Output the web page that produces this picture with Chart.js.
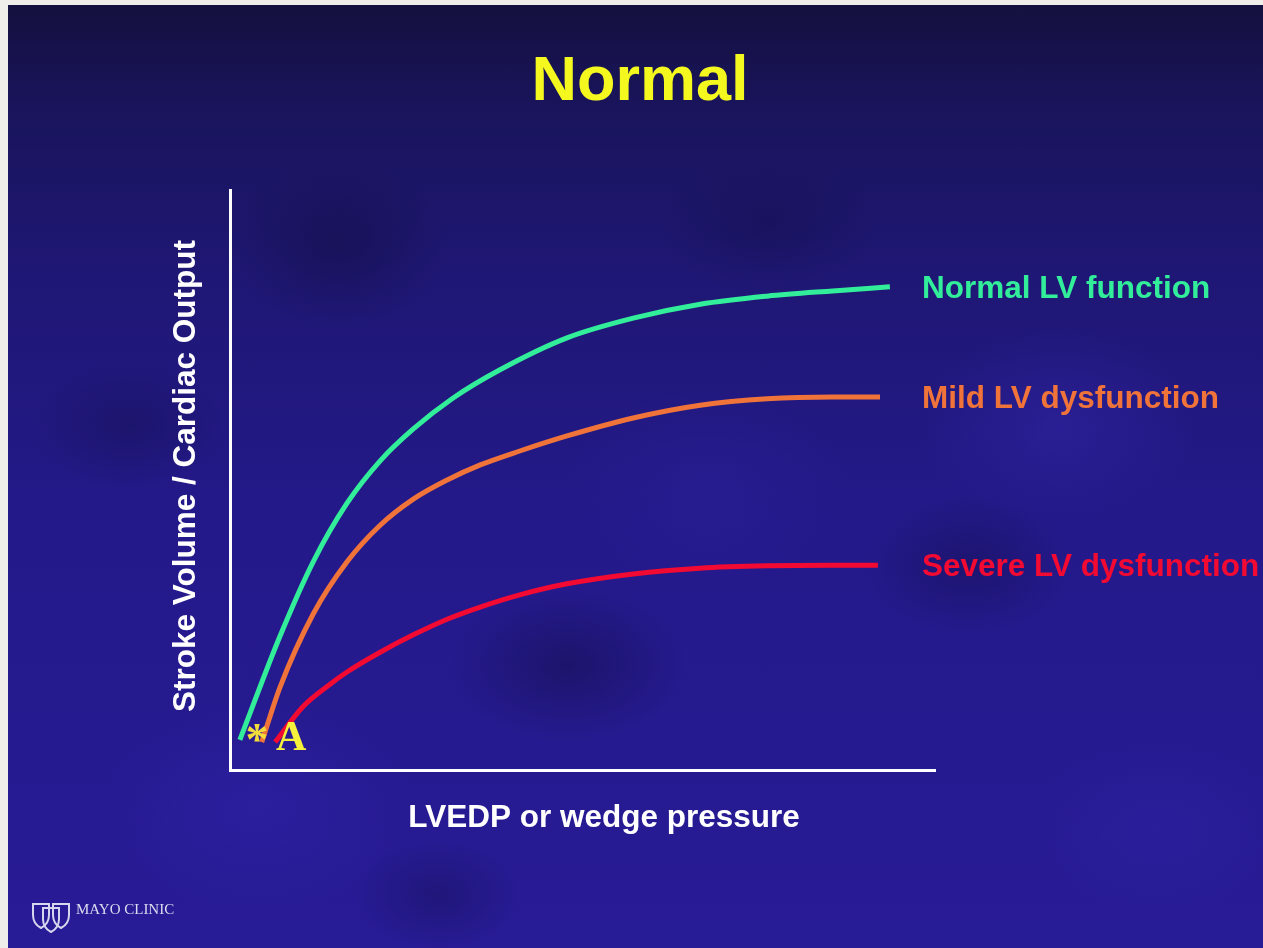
<!DOCTYPE html>
<html>
<head>
<meta charset="utf-8">
<script src="https://cdn.jsdelivr.net/npm/chart.js@4/dist/chart.umd.min.js"></script>
<style>
  html, body { margin: 0; padding: 0; }
  body { width: 1263px; height: 948px; background: #efeeea; overflow: hidden; position: relative; }
  .slide {
    position: absolute; left: 8px; top: 5px; width: 1255px; height: 943px;
    background:
      radial-gradient(ellipse 170px 110px at 560px 660px, rgba(14,12,55,0.40), transparent 70%),
      radial-gradient(ellipse 160px 120px at 330px 240px, rgba(14,12,55,0.40), transparent 70%),
      radial-gradient(ellipse 150px 100px at 960px 560px, rgba(14,12,60,0.35), transparent 70%),
      radial-gradient(ellipse 140px 90px at 120px 420px, rgba(14,12,60,0.30), transparent 70%),
      radial-gradient(ellipse 160px 100px at 760px 220px, rgba(14,12,60,0.30), transparent 70%),
      radial-gradient(ellipse 120px 80px at 430px 890px, rgba(14,12,60,0.30), transparent 70%),
      radial-gradient(ellipse 200px 140px at 1050px 420px, rgba(60,45,190,0.30), transparent 70%),
      radial-gradient(ellipse 220px 150px at 250px 800px, rgba(55,40,185,0.30), transparent 70%),
      radial-gradient(ellipse 200px 140px at 700px 480px, rgba(50,38,170,0.25), transparent 70%),
      radial-gradient(ellipse 180px 120px at 1150px 820px, rgba(55,40,180,0.25), transparent 70%),
      linear-gradient(#14103e 0%, #19145a 10%, #1f1774 28%, #24198a 55%, #281b96 100%);
  }
  #wrap { position: absolute; left: 0; top: 0; width: 1263px; height: 948px; }
</style>
</head>
<body>
<div class="slide"></div>
<div id="wrap"><canvas id="chart"></canvas></div>
<script>
  // curves (x: pressure, y: output, both 0-100 along the drawn axes)
  const normalX = [1.4, 7.1, 11.8, 16.6, 21.3, 26.0, 31.6, 38.3, 47.8, 57.2, 66.7, 76.2, 85.5, 93.6];
  const normalY = [5.2, 23.1, 35.9, 46.0, 53.3, 58.8, 64.1, 69.0, 74.5, 77.9, 80.3, 81.7, 82.6, 83.3];

  const mildX = [4.5, 7.1, 11.8, 16.6, 21.3, 26.0, 30.8, 35.5, 41.1, 47.8, 57.2, 66.7, 76.2, 85.5, 92.2];
  const mildY = [4.8, 14.3, 26.9, 35.9, 42.2, 46.7, 50.0, 52.6, 55.0, 57.6, 60.7, 62.9, 64.0, 64.3, 64.3];

  const severeX = [6.4, 10.4, 14.2, 16.6, 21.3, 26.0, 30.8, 35.5, 41.1, 47.8, 57.2, 66.7, 76.2, 85.5, 91.9];
  const severeY = [4.8, 11.0, 14.8, 16.9, 20.3, 23.3, 26.0, 28.1, 30.2, 32.1, 33.8, 34.8, 35.2, 35.3, 35.3];

  const seriesNames = ['Normal LV function', 'Mild LV dysfunction', 'Severe LV dysfunction'];
  const seriesColors = ['#32ee9a', '#f0743a', '#f20a32'];

  const titleText = 'Normal';
  const xTitle = 'LVEDP or wedge pressure';
  const yTitle = 'Stroke Volume / Cardiac Output';

  const SANS = '"Liberation Sans", Arial, sans-serif';
  const SERIF = '"Liberation Serif", "Times New Roman", serif';

  function pts(xs, ys) {
    return xs.map((x, i) => ({ x: x, y: ys[i] }));
  }

  const slideText = {
    id: 'slideText',
    afterDatasetsDraw(chart) {
      const ctx = chart.ctx;
      ctx.save();

      // curve labels, placed at the height of each curve's last point
      ctx.font = 'bold 31.5px ' + SANS;
      ctx.textAlign = 'left';
      ctx.textBaseline = 'alphabetic';
      chart.data.datasets.forEach((ds, i) => {
        const meta = chart.getDatasetMeta(i);
        const last = meta.data[meta.data.length - 1];
        ctx.fillStyle = ds.borderColor;
        ctx.fillText(seriesNames[i], 922, last.y + 11);
      });

      // title
      ctx.fillStyle = '#f4f81e';
      ctx.textAlign = 'center';
      ctx.font = 'bold 63px ' + SANS;
      ctx.fillText(titleText, 640, 100);

      // axis titles
      ctx.fillStyle = '#ffffff';
      ctx.font = 'bold 31.5px ' + SANS;
      ctx.fillText(xTitle, 604, 827);
      ctx.save();
      ctx.translate(195, 476);
      ctx.rotate(-Math.PI / 2);
      ctx.fillText(yTitle, 0, 0);
      ctx.restore();

      // markers at the foot of the curves
      ctx.fillStyle = '#f2dc3a';
      ctx.font = 'bold 46px ' + SERIF;
      ctx.fillText('*', 257, 755);
      ctx.fillStyle = '#f6f23c';
      ctx.font = 'bold 42px ' + SERIF;
      ctx.textAlign = 'left';
      ctx.fillText('A', 276, 750);

      // Mayo Clinic mark
      ctx.strokeStyle = '#d6d6ee';
      ctx.lineWidth = 2;
      [[41, 904], [51, 908], [61, 904]].forEach(([cx, top]) => {
        ctx.beginPath();
        ctx.moveTo(cx - 8, top);
        ctx.lineTo(cx + 8, top);
        ctx.lineTo(cx + 8, top + 11);
        ctx.quadraticCurveTo(cx + 8, top + 20, cx, top + 24);
        ctx.quadraticCurveTo(cx - 8, top + 20, cx - 8, top + 11);
        ctx.closePath();
        ctx.stroke();
      });
      ctx.fillStyle = '#dcdcf0';
      ctx.font = '15px ' + SERIF;
      ctx.fillText('MAYO CLINIC', 76, 914);

      ctx.restore();
    }
  };

  new Chart(document.getElementById('chart'), {
    type: 'line',
    data: {
      datasets: [
        { data: pts(normalX, normalY), borderColor: seriesColors[0] },
        { data: pts(mildX, mildY), borderColor: seriesColors[1] },
        { data: pts(severeX, severeY), borderColor: seriesColors[2] }
      ]
    },
    options: {
      responsive: true,
      maintainAspectRatio: false,
      animation: false,
      events: [],
      layout: { padding: { left: 230, top: 190, right: 328, bottom: 178 } },
      elements: {
        line: { borderWidth: 5, cubicInterpolationMode: 'monotone', fill: false },
        point: { radius: 0 }
      },
      plugins: {
        legend: { display: false },
        tooltip: { enabled: false },
        title: { display: false }
      },
      scales: {
        x: {
          type: 'linear', min: 0, max: 100,
          grid: { display: false, drawTicks: false },
          ticks: { display: false },
          border: { display: true, color: '#ffffff', width: 3 }
        },
        y: {
          type: 'linear', min: 0, max: 100,
          grid: { display: false, drawTicks: false },
          ticks: { display: false },
          border: { display: true, color: '#ffffff', width: 3 }
        }
      }
    },
    plugins: [slideText]
  });
</script>
</body>
</html>
